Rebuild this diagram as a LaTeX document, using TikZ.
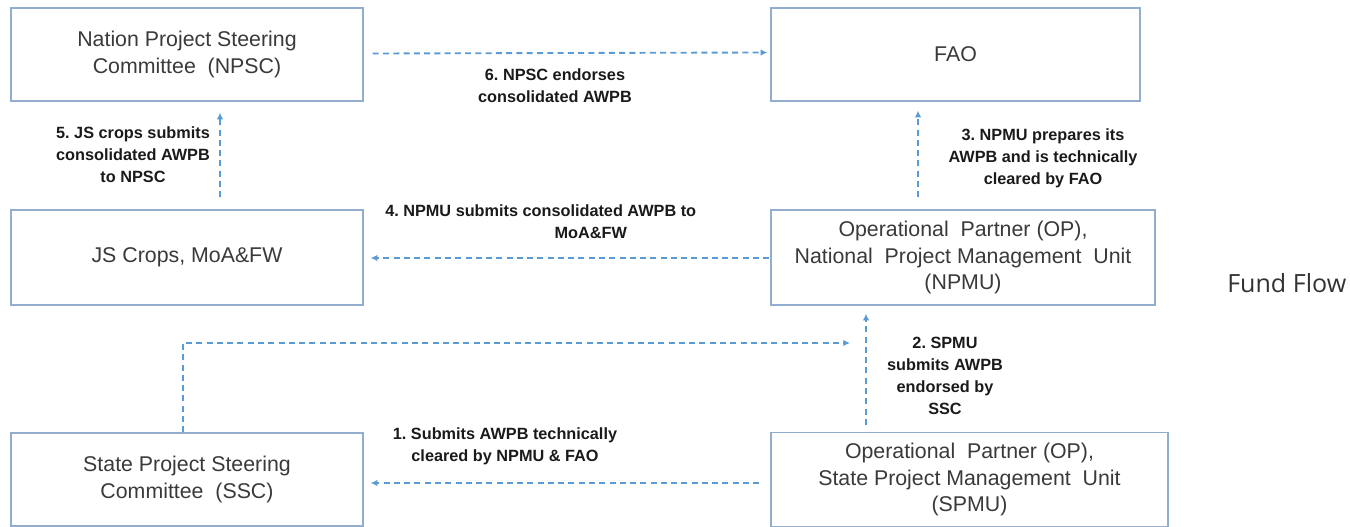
\documentclass[tikz,border=0pt]{standalone}
\usepackage{fontspec}
\setmainfont{Liberation Sans}
\newfontfamily\captionfont{Open Sans}
\usetikzlibrary{arrows.meta,calc}
\definecolor{boxline}{HTML}{93ADCE}
\definecolor{flowblue}{HTML}{5B9BD5}
\definecolor{boxtext}{HTML}{3A3A3A}
\definecolor{labeltext}{HTML}{1A1A1A}
\frenchspacing
\begin{document}
\begin{tikzpicture}[x=0.75pt,y=-0.75pt,
  box/.style={draw=boxline,line width=1.1pt,fill=white,align=center,
    text=boxtext,font=\fontsize{16}{20}\selectfont,inner sep=0pt},
  flow/.style={draw=flowblue,line width=1.4pt,dash pattern=on 4.5pt off 3.2pt,
    -{Latex[length=5pt,width=5pt]}},
  steplabel/.style={align=center,text=labeltext,
    font=\fontsize{12.2}{16.5}\selectfont\bfseries,inner sep=0pt}]
\useasboundingbox (0,0) rectangle (1350,527);

% organisations
\node[box,minimum width=264pt,minimum height=69.75pt] (npsc) at (187,54.5)
  {Nation Project Steering\\Committee\ \ (NPSC)};
\node[box,minimum width=276.75pt,minimum height=69.75pt] (fao) at (955.5,54.5) {FAO};
\node[box,minimum width=264pt,minimum height=71.25pt] (js) at (187,257.5) {JS Crops, MoA\&FW};
\node[box,minimum width=288pt,minimum height=71.25pt] (npmu) at (963,257.5)
  {Operational\ \ Partner (OP),\\National\ \ Project Management\ \ Unit\\(NPMU)};
\node[box,minimum width=264pt,minimum height=69.75pt] (ssc) at (187,479.5)
  {State Project Steering\\Committee\ \ (SSC)};
\node[box,minimum width=297.75pt,minimum height=70.5pt] (spmu) at (969.5,479.5)
  {Operational\ \ Partner (OP),\\State Project Management\ \ Unit\\(SPMU)};

% approval steps
\draw[flow] ($(spmu.west)+(-11,3.5)$) -- ($(ssc.east)+(7,3.5)$);
\coordinate (join) at (850,343);
\draw[flow] ($(ssc.north)+(-4,0)$) |- (join);
\draw[flow] ($(spmu.north)+(-103.5,-7)$) -- ($(npmu.south)+(-97,8)$);
\draw[flow] ($(npmu.north)+(-45,-12)$) -- ($(fao.south)+(-37.5,9)$);
\draw[flow] ($(npmu.west)+(-1,0.5)$) -- ($(js.east)+(7,0.5)$);
\draw[flow] ($(js.north)+(33,-12)$) -- ($(npsc.south)+(33,11)$);
\draw[flow] ($(npsc.east)+(9,-1)$) -- ($(fao.west)+(-3,-2)$);

% step captions
\node[steplabel] (s1) at (505,446) {1. Submits AWPB technically\\cleared by NPMU \& FAO};
\node[steplabel] (s2) at (945,376) {2. SPMU\\submits AWPB\\endorsed by\\SSC};
\node[steplabel] (s3) at (1043,158) {3. NPMU prepares its\\AWPB and is technically\\cleared by FAO};
\node[steplabel,align=left,anchor=north west] (s4) at (385,204)
  {4. NPMU submits consolidated AWPB to\\\hspace*{127pt}MoA\&FW};
\node[steplabel] (s5) at (133,155) {5. JS crops submits\\consolidated AWPB\\to NPSC};
\node[steplabel] (s6) at (555,86) {6. NPSC endorses\\consolidated AWPB};

\node[font=\captionfont\fontsize{18.8}{22}\selectfont,text=black!80,anchor=west,inner sep=0pt]
  (title) at (1227,283) {Fund Flow};
\end{tikzpicture}
\end{document}
